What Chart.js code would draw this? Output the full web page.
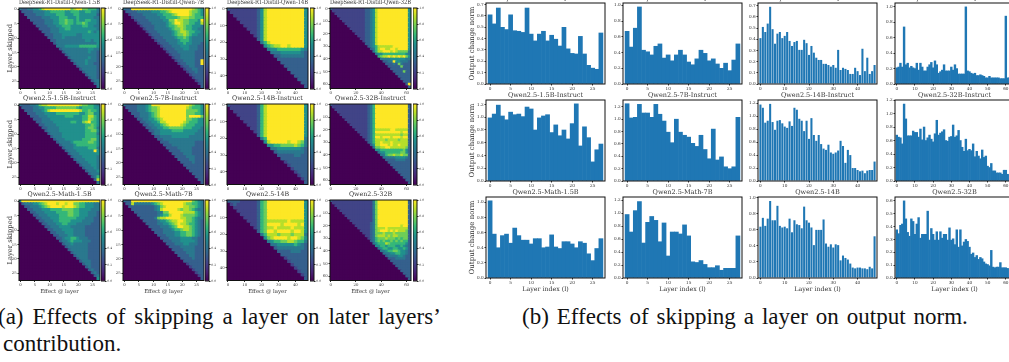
<!DOCTYPE html>
<html>
<head>
<meta charset="utf-8">
<script src="https://cdn.jsdelivr.net/npm/chart.js@4"></script>
<style>
  html, body { margin: 0; padding: 0; background: #fff; width: 1009px; height: 362px; overflow: hidden; }
  canvas { position: absolute; filter: blur(0.3px); }
  .cap { position: absolute; font: 23px "Liberation Serif", serif; word-spacing: 2.2px; color: #111; white-space: nowrap; }
</style>
</head>
<body>
<div class="cap" style="left:-2px;top:304px;word-spacing:3.2px">(a) Effects of skipping a layer on later layers’</div>
<div class="cap" style="left:3px;top:331px">contribution.</div>
<div class="cap" style="left:522px;top:304px">(b) Effects of skipping a layer on output norm.</div>
<script>
// titles
const heatTitles = [
  ['DeepSeek-R1-Distill-Qwen-1.5B', 'DeepSeek-R1-Distill-Qwen-7B', 'DeepSeek-R1-Distill-Qwen-14B', 'DeepSeek-R1-Distill-Qwen-32B'],
  ['Qwen2.5-1.5B-Instruct', 'Qwen2.5-7B-Instruct', 'Qwen2.5-14B-Instruct', 'Qwen2.5-32B-Instruct'],
  ['Qwen2.5-Math-1.5B', 'Qwen2.5-Math-7B', 'Qwen2.5-14B', 'Qwen2.5-32B']
]
const layerCounts = [28, 28, 48, 64]
// a heatmap cell covers this many layers
const cellSpans = [1, 1, 2, 2]
const heatTickX = [5, 5, 10, 20]
const heatTickY = [5, 5, 10, 10]
const barTickX = [5, 5, 10, 10]
const barXMax = [28, 28, 48, 64.5]
const barFill = [1, 1, 0.85, 1]
const colorbarTicks = 0.2

// heatmap rows: digit 0-9 = 0..1 on the colour scale, each row starts at the diagonal
const heatDeepSeek15 = ['4334455689999999997899776664','333344445566666556665566554','33334445555666555665555553','3333344455566655565555544','333334445566766565566554','33334445566766566765554','3333444556665555665544','333344455665555555554','33344455555555556545','3334445555544555555','334445444444555555','33444444444455455','3444444444444445','444555556666665','34444444445544','3444444445443','344444444443','34444445443','3444454443','344454433','34444443','3444443','344443','34443','3443','344','34','4']
const heatDeepSeek7 = ['4339999999999999999999998765','333344444555667899999987765','23333444445566678999987665','2333344444556666788877666','233334444455779887766659','23333444445679987766558','2333344445667887665554','233344444567787665544','23334444456788766554','2333444456778765544','233344445667654444','23334444566654444','2333444556554443','233344455544433','23334445544433','2333444444333','233344444333','23344444333','2334444339','233444339','23344333','2334433','233433','23333','2333','233','23','3']
const heatDeepSeek14 = ['322222222358999999999995','22222222358999999999995','2222222358999999999995','222222358999999999995','22222358999999999995','2222358999999999995','222358999999999995','22358999999999995','2358999999999995','358999999999995','46899999999995','5678899899995','455666666654','44455555543','3344444443','333333333','33333333','3333333','333333','33333','3333','333','33','3']
const heatDeepSeek32 = ['32222222222222334589999999999995','2222222222222334589999999999995','222222222222334589999999999995','22222222222334589999999999995','2222222222334589999999999995','222222222334589999999999995','22222222334589999999999995','2222222334589999999999995','222222334589999999999995','22222334589999999999995','2222334589999999999995','222334589999999999995','22334589999999999995','2334589999999999995','334589999999999995','34568888889999995','3468998899899995','468899989877774','45566666666654','6788989898975','444455555544','33449554443','3334374333','333337333','33333333','3333733','333333','33333','3333','333','39','3']
const heatInstruct15 = ['4333445788999999999998776654','333344556666777777765666655','33344456899999999998667665','3334445555666666665567755','333444555555666555668865','33344455555555555668765','3344445555556655789665','334444555555555566765','33444455555555567764','3444455555555566775','344445555555566664','34445555555566665','3444555555666775','344445666667765','34444566666665','3444555556664','344455555595','34445555555','3444555554','344455554','34445554','3444554','344454','34445','3444','346','38','4']
const heatInstruct7 = ['4333344456999999999999987665','333344456778999999999876665','33344456778999999999777765','3334445678999999999777665','3344456789999999997999975','33445567899999999776655','3344556889999998766655','334455678999987666555','33445566777776665554','3344555566665555544','344555555555555444','33444455555544444','3344444444444444','333444444444333','33344444444333','3333444443333','333344443333','33334443333','3333444333','333344333','33334333','3333333','333333','33333','3333','333','33','3']
const heatInstruct14 = ['322222222368999999999995','22222222368999999999995','2222222368999999999995','222222368999999999995','22222368999999999995','2222368999999999995','222368999999999995','22368999999999995','2368999999999995','368999999999995','46999999999994','5899999899874','556677778764','44555555543','3444444443','333334433','33333333','2333333','233333','23333','2333','233','23','3']
const heatInstruct32 = ['32222222222222234699999999999993','2222222222222234699999999999993','222222222222234699999999999993','22222222222234699999999999993','2222222222234699999999999993','222222222234699999999999993','22222222234699999999999993','2222222234699999999999993','222222234699999999999993','22222234699999999999993','2222234688888899888883','222234699999999998993','22234688888888887883','2234699899989998993','234688887888878883','34688988898888883','3588999898898883','477889988888873','55666666666753','4556666667753','446778778773','44444555543','3333444433','333333333','33333333','3333333','333333','33333','3333','333','33','3']
const heatMath15 = ['5999999999999999999999999999','344455678999899899776655544','33444567899998999876655544','3344455566667777665555444','334445555666677665554443','33444555566677665554443','3344455566666655544433','334445566665555444433','33444556655544444333','3344455554444433333','334445555444433333','33444555444433333','3344455444433333','334556654443333','34456555444333','3445444443333','344444443333','34444443333','3444443333','344443333','34443333','3444333','344333','34333','3433','343','34','5']
const heatMath7 = ['4339999999999999999999997654','338444444567899999998776654','33333333345789999998877654','3333333345899999878876544','333333334477999998888654','33333334566899987777654','3333347889999988776544','333334556788998776543','33334455678988766543','3333444567998876543','333344456678876543','33344445566776543','3334445566776543','333444455554433','33344455555433','3334445544433','333344444333','33334444333','3333444333','333344333','33334333','3333333','233333','23333','2333','233','23','3']
const heatQwen14 = ['333322222367999999999995','23222222367999999999995','2222222367999999999995','222222367999999999995','22222367999999999995','2222367999999999995','222367888888988885','22367999989999895','2367889888898885','367998999989985','46888788878884','5789999899875','456677887664','44555556543','3444444443','333344433','33333333','2333333','233333','23333','2333','233','23','3']
const heatQwen32 = ['32222222222222222479999999999993','2222222222222222479999999999993','222222222222222479999999999993','22222222222222479999999999993','2222222222222479999999999993','222222222222479999999999993','22222222222479999999999993','2222222222479999999999993','222222222479999999999993','22222223479999999999993','2222223479999999998993','222223478889888888883','22223478999898988873','2223477787778777773','223478887878877773','23467778777676773','3467676676767663','456668766666653','55665666556543','4566556655653','445667765543','44455665543','3444455433','333444433','33333333','3333333','333333','33333','3333','333','33','3']
const heatRows = [
  [heatDeepSeek15, heatDeepSeek7, heatDeepSeek14, heatDeepSeek32],
  [heatInstruct15, heatInstruct7, heatInstruct14, heatInstruct32],
  [heatMath15, heatMath7, heatQwen14, heatQwen32]
]

// output change norm per skipped layer
const normDeepSeek15 = [.61,.53,.67,.50,.48,.61,.47,.465,.455,.67,.44,.38,.44,.465,.38,.43,.395,.335,.50,.31,.27,.265,.42,.265,.165,.14,.13,.45]
const normDeepSeek7 = [.67,.47,.71,.98,.43,.41,.37,.48,.51,.33,.37,.295,.37,.43,.37,.28,.245,.32,.43,.39,.295,.32,.255,.2,.265,.17,.305,.51]
const normDeepSeek14 = [.41,.51,.465,.54,.69,.49,.36,.45,.465,.41,.43,.465,.385,.34,.375,.385,.305,.305,.395,.365,.26,.34,.28,.235,.215,.215,.18,.18,.17,.155,.17,.145,.305,.125,.145,.135,.125,.09,.09,.145,.115,.08,.315,.115,.235,.09,.115,.17]
const normDeepSeek32 = [.21,.22,.27,.22,.74,.25,.27,.21,.23,.21,.2,.27,.18,.27,.22,.17,.17,.22,.25,.28,.21,.30,.25,.14,.16,.18,.25,.17,.17,.17,.22,.18,.25,.2,.13,.13,.13,.13,1.0,.17,.16,.14,.13,.14,.11,.11,.12,.11,.1,.08,.08,.1,.08,.08,.08,.08,.08,.07,.07,.07,.88,.08,.08,.08]
const normInstruct15 = [.99,1.05,1.19,1.02,.96,1.08,1.04,1.05,1.01,1.16,1.13,.80,.99,1.02,1.04,.76,.88,.71,.80,.66,.90,1.21,.55,.85,.68,.30,.49,.58]
const normInstruct7 = [1.25,1.02,1.03,1.24,1.10,1.10,1.03,1.24,1.08,.97,.79,.62,1.00,.79,.74,.71,.61,.56,.74,.51,.36,.84,.34,.39,.23,.20,.23,1.03]
const normInstruct14 = [1.18,1.13,.90,.93,1.19,.91,.79,.93,.94,.89,.84,.82,.92,.85,1.13,1.10,.96,.93,.77,.93,.65,.97,.71,.62,.71,.57,.50,.48,.56,.44,.42,.44,.47,.62,.54,.28,.48,.40,.20,.20,.17,.15,.16,.12,.16,.17,.17,.30]
const normInstruct32 = [.68,.65,.64,.55,1.14,.92,.67,.67,.67,.74,.72,.72,.65,.77,.61,.80,.6,.64,.68,.62,.58,.70,.90,.68,.71,.73,.76,.60,.59,.65,.66,.83,.65,.67,.75,.60,.50,.44,.62,.45,.47,.45,.55,.36,.44,.37,.33,.46,.35,.37,.22,.20,.26,.15,.15,.12,.12,.12,.10,.16,.16,.10,.09,.1]
const normMath15 = [1.02,.58,.40,.56,.58,.46,.66,.56,.50,.50,.45,.52,.52,.40,.41,.57,.41,.39,.48,.48,.45,.40,.48,.46,.32,.23,.39,.52]
const normMath7 = [.98,.71,1.04,1.18,.54,.86,.95,.89,.56,.85,.34,.71,.71,.68,.82,.65,.25,.24,.27,.21,.16,.16,.19,.12,.15,.15,.15,.65]
const normQwen14 = [.64,.75,.65,.74,.96,.72,.72,.90,.65,.63,.64,.62,.74,.57,.72,.67,.66,.62,.89,.72,.69,.63,.41,.60,.60,.60,.73,.43,.39,.42,.38,.42,.41,.22,.28,.25,.23,.18,.13,.12,.13,.13,.12,.12,.11,.14,.12,.52]
const normQwen32 = [.375,.345,.41,.42,.60,.46,.355,.325,.46,.44,.34,.42,.47,.31,.34,.34,.34,.52,.295,.385,.34,.295,.36,.295,.36,.31,.34,.34,.295,.39,.295,.305,.26,.375,.24,.375,.25,.28,.30,.285,.24,.185,.195,.16,.175,.145,.16,.15,.125,.11,.105,.095,.215,.085,.08,.085,.085,.12,.08,.08,.08,.075,.07,.07]
const normValues = [
  [normDeepSeek15, normDeepSeek7, normDeepSeek14, normDeepSeek32],
  [normInstruct15, normInstruct7, normInstruct14, normInstruct32],
  [normMath15, normMath7, normQwen14, normQwen32]
]
const normMax = [[.714, 1.03, .724, 1.05], [1.27, 1.31, 1.25, 1.2], [1.07, 1.25, 1.01, .63]]
const normStep = [[.1, .2, .1, .2], [.2, .2, .2, .2], [.2, .2, .2, .1]]

// layout of the panels in page pixels
const heatLeft = [19, 122.5, 226.5, 330]
const heatTop = [8, 104, 200]
const heatW = 81, heatH = 80.5
const cbarLeft = [101, 205, 309.5, 412.5]
const barLeft = [486, 622.5, 758, 895]
const barTop = [3, 100, 197]
const barW = 119, barH = 81

const serif = '"DejaVu Serif", serif'
const viridis = ['#440154','#482475','#414487','#35608d','#2a788e','#21908d','#35b779','#6ece58','#b5de2b','#fde725']

Chart.defaults.animation = false
Chart.defaults.devicePixelRatio = 1
Chart.defaults.color = '#333'
Chart.defaults.plugins.legend.display = false
Chart.defaults.plugins.tooltip.enabled = false

const frame = {
  id: 'frame',
  afterDraw(chart) {
    const a = chart.chartArea, c = chart.ctx
    c.save()
    c.strokeStyle = '#111'
    c.lineWidth = 1
    c.strokeRect(a.left, a.top, a.right - a.left, a.bottom - a.top)
    c.restore()
  }
}

const addCanvas = (left, top, w, h) => {
  const el = document.createElement('canvas')
  el.width = Math.ceil(w)
  el.height = Math.ceil(h)
  el.style.left = left + 'px'
  el.style.top = top + 'px'
  el.style.width = Math.ceil(w) + 'px'
  el.style.height = Math.ceil(h) + 'px'
  document.body.appendChild(el)
  return el
}

const axis = (size, fontSize, step, extra) => Object.assign({
  type: 'linear',
  offset: false,
  grid: { drawOnChartArea: false, drawTicks: true, tickLength: 1.5, tickColor: '#333', offset: false },
  border: { display: false },
  ticks: { font: { family: serif, size: fontSize }, padding: 0.8, maxRotation: 0, autoSkip: false, includeBounds: false, stepSize: step },
  afterFit: s => { if (s.isHorizontal()) s.height = size; else s.width = size }
}, extra)

const heatCells = (rows, n, span) => {
  const cells = []
  rows.forEach((row, r) => {
    const len = rows.length - r
    const full = row.slice(0, len).padEnd(len, row[row.length - 1]).padStart(rows.length, '0')
    for (let c = 0; c < full.length; c++) {
      cells.push({ x: c * span + (span - 1) / 2, y: r * span + (span - 1) / 2, v: +full[c] })
    }
  })
  return cells
}

const titleOpt = (text, size, top, bottom) => ({
  display: true, text, color: '#333', fullSize: false,
  font: { family: serif, size, weight: 'normal', lineHeight: 1 },
  padding: { top, bottom }
})

const drawHeat = (row, col) => {
  const n = layerCounts[col], span = cellSpans[col]
  const L = 13, T = 10, B = 14, R = 4
  const left = heatLeft[col], top = heatTop[row]
  const el = addCanvas(left - L, top - T, heatW + L + R, heatH + T + B)
  new Chart(el, {
    type: 'scatter',
    data: { datasets: [{
      data: heatCells(heatRows[row][col], n, span),
      pointStyle: 'rect',
      borderWidth: 0,
      backgroundColor: ctx => ctx.raw ? viridis[ctx.raw.v] : viridis[0],
      pointRadius: ctx => {
        const w = ctx.chart.scales.x.width / n * span
        return (w + 1.2) / Math.SQRT2
      }
    }] },
    options: {
      responsive: false,
      events: [],
      layout: { padding: { right: el.width - L - heatW, bottom: 0 } },
      plugins: { title: titleOpt(heatTitles[row][col], 6.3, 1.1, 2.6) },
      scales: {
        x: axis(el.height - T - heatH, 3.8, heatTickX[col], {
          min: -0.5, max: n - 0.5,
          title: { display: row === 2, text: 'Effect @ layer', color: '#333', padding: 0, font: { family: serif, size: 5.4 } }
        }),
        y: axis(L, 3.8, heatTickY[col], {
          min: -0.5, max: n - 0.5, reverse: true,
          title: { display: col === 0, text: 'Layer skipped', color: '#333', padding: 0, font: { family: serif, size: 6.8 } }
        })
      }
    },
    plugins: [frame]
  })
  // colour bar
  const cb = addCanvas(cbarLeft[col], top - 3, 14, heatH + 6)
  new Chart(cb, {
    type: 'bar',
    data: { labels: [''], datasets: [{
      data: [[0, 1]],
      barPercentage: 1,
      categoryPercentage: 1,
      backgroundColor: ctx => {
        const a = ctx.chart.chartArea
        if (!a) return viridis[0]
        const g = ctx.chart.ctx.createLinearGradient(0, a.bottom, 0, a.top)
        viridis.forEach((c, i) => g.addColorStop(i / 9, c))
        return g
      }
    }] },
    options: {
      responsive: false,
      events: [],
      layout: { padding: { top: 3, bottom: 3 } },
      scales: {
        x: { display: false },
        y: axis(10, 3, colorbarTicks, {
          position: 'right', min: 0, max: 1,
          ticks: { font: { family: serif, size: 3 }, padding: 0.8, autoSkip: false, stepSize: colorbarTicks, callback: v => v.toFixed(1) }
        })
      }
    },
    plugins: [frame]
  })
}

const drawBars = (row, col) => {
  const L = 18, T = 8, B = 15, R = 4
  const left = barLeft[col], top = barTop[row]
  const el = addCanvas(left - L, top - T, barW + L + R, barH + T + B)
  new Chart(el, {
    type: 'bar',
    data: { datasets: [{
      data: normValues[row][col].map((v, i) => ({ x: i, y: v })),
      backgroundColor: '#1f77b4',
      barPercentage: barFill[col],
      categoryPercentage: 1,
      inflateAmount: barFill[col] < 1 ? 0 : 0.3
    }] },
    options: {
      responsive: false,
      events: [],
      layout: { padding: { right: el.width - L - barW } },
      plugins: { title: titleOpt(heatTitles[row][col], 6.5, 0.5, 1) },
      scales: {
        x: axis(el.height - T - barH, 4.2, barTickX[col], {
          min: -1, max: barXMax[col],
          title: { display: row === 2, text: 'Layer index (l)', color: '#333', padding: 0, font: { family: serif, size: 6.3 } }
        }),
        y: axis(L, 4.2, normStep[row][col], {
          min: 0, max: normMax[row][col],
          ticks: { font: { family: serif, size: 4.2 }, padding: 0.8, autoSkip: false, includeBounds: false, stepSize: normStep[row][col], callback: v => v.toFixed(1) },
          title: { display: col === 0, text: 'Output change norm', color: '#333', padding: 0, font: { family: serif, size: 7 } }
        })
      }
    },
    plugins: [frame]
  })
}

for (let r = 0; r < 3; r++) {
  for (let c = 0; c < 4; c++) {
    drawHeat(r, c)
    drawBars(r, c)
  }
}
</script>
</body>
</html>
